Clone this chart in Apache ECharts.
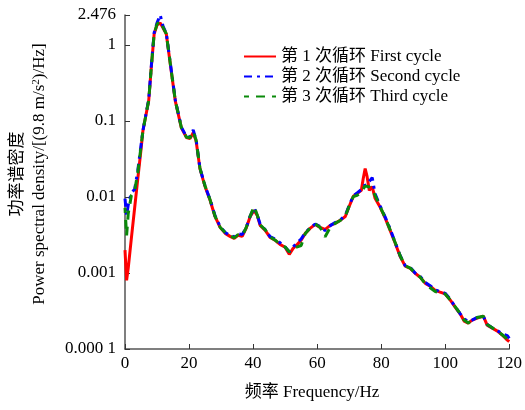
<!DOCTYPE html>
<html><head><meta charset="utf-8">
<script src="https://cdn.jsdelivr.net/npm/echarts@6/dist/echarts.min.js"></script>
<style>html,body{margin:0;padding:0;background:#fff}#c{width:525px;height:410px}</style>
</head><body><div id="c"></div>
<script>
var freq = [0,0.5,1,2,3,4,5,5.6,6.5,7.4,8.2,9.1,10,11,11.9,12.9,14.3,15.7,17.6,19.2,20.3,21.3,22.2,23.4,25,26.6,28.1,29.7,31.3,32.8,34.1,35.3,36.6,37.8,39.1,40.3,41.3,42.2,43.8,45.3,46.9,48.4,50,51.3,52.5,53.8,55,56.3,57.8,59.4,60.9,62.5,64.1,65.6,67.2,68.8,70,71.3,72.5,73.8,74.4,75,75.6,76.3,77.2,78.1,79.7,81.3,82.8,84.4,85.9,87.5,89.1,90.6,92.2,93.8,95.3,96.9,98.4,100,101.6,103.1,104.7,105.9,107.2,108.4,110,111.9,113.1,114.7,116.3,117.8,119.4,120];
var firstCycle = [0.002,0.0008,0.00115,0.0029,0.0071,0.0175,0.042,0.0745,0.117,0.184,0.50,1.39,1.83,1.94,1.67,1.39,0.50,0.184,0.081,0.0606,0.0585,0.070,0.055,0.0236,0.0137,0.009,0.00554,0.00398,0.00332,0.00303,0.00285,0.00313,0.00303,0.00386,0.00554,0.00665,0.00572,0.00423,0.00364,0.00294,0.00269,0.00238,0.00218,0.00176,0.00211,0.00238,0.00269,0.00332,0.00386,0.00436,0.00398,0.00375,0.00423,0.00449,0.00492,0.00554,0.0075,0.0102,0.0111,0.0122,0.0175,0.0236,0.0186,0.0122,0.0137,0.0096,0.0073,0.00523,0.00364,0.00246,0.00166,0.00123,0.00115,0.00099,0.00088,0.00073,0.00067,0.00059,0.00056,0.00053,0.00044,0.000356,0.000288,0.000233,0.000219,0.00024,0.000255,0.000271,0.000206,0.000188,0.000172,0.000153,0.000131,0.000125];
var secondCycle = [0.0095,0.0057,0.0078,0.0115,0.0125,0.0223,0.048,0.0745,0.12,0.19,0.52,1.45,1.95,2.476,1.75,1.42,0.52,0.19,0.083,0.062,0.062,0.076,0.057,0.024,0.014,0.0092,0.0057,0.0041,0.0034,0.0031,0.003,0.0033,0.0032,0.0039,0.0056,0.0072,0.0058,0.0044,0.0037,0.003,0.0028,0.0025,0.0022,0.0019,0.0022,0.0025,0.0028,0.0034,0.0039,0.0044,0.0041,0.0036,0.0042,0.0046,0.005,0.0057,0.0077,0.0104,0.0113,0.0125,0.014,0.0145,0.0145,0.016,0.018,0.011,0.0076,0.0054,0.0038,0.0025,0.0017,0.00125,0.00118,0.001,0.0009,0.00075,0.00068,0.0006,0.00057,0.00054,0.00045,0.00036,0.00029,0.00025,0.00023,0.00024,0.00026,0.00027,0.00021,0.00019,0.000175,0.000158,0.00015,0.000138];
var thirdCycle = [0.0072,0.0031,0.006,0.0105,0.012,0.021,0.046,0.0745,0.118,0.186,0.5,1.4,1.88,2.05,1.7,1.4,0.51,0.186,0.082,0.061,0.06,0.073,0.056,0.024,0.0139,0.0091,0.0056,0.004,0.0034,0.0031,0.0029,0.0032,0.0031,0.0039,0.0056,0.0075,0.0058,0.0043,0.0037,0.003,0.0027,0.0024,0.0022,0.0019,0.0021,0.0022,0.0023,0.0033,0.0039,0.0044,0.004,0.003,0.004,0.0045,0.0049,0.0056,0.0076,0.0101,0.0105,0.0115,0.0128,0.014,0.0145,0.0135,0.0125,0.0105,0.0074,0.0053,0.0037,0.0025,0.0017,0.00124,0.00116,0.001,0.00088,0.00072,0.00064,0.00057,0.00055,0.00053,0.00044,0.00036,0.00029,0.00024,0.00022,0.00024,0.00026,0.00027,0.00021,0.00019,0.000172,0.000154,0.000135,0.00013];
var seriesNames = ['第 1 次循环 First cycle','第 2 次循环 Second cycle','第 3 次循环 Third cycle'];
var yTickLabels = {'0.0001':'0.000 1','0.001':'0.001','0.01':'0.01','0.1':'0.1','1':'1','2.476':'2.476'};
var xTicks = [0,20,40,60,80,100,120];

var FONT = "'Liberation Serif','Noto Sans CJK SC',serif";
var FS = 17;
function pairs(v){ return freq.map(function(f,i){ return [f, v[i]]; }); }

var chart = echarts.init(document.getElementById('c'));
chart.setOption({
  animation: false,
  backgroundColor: '#fff',
  grid: {left: 125, right: 14, top: 15, bottom: 61},
  legend: {
    orient: 'vertical', left: 238, top: 43, itemWidth: 32, itemHeight: 14, itemGap: 3,
    itemStyle: {opacity: 0},
    textStyle: {fontFamily: FONT, fontSize: FS, color: '#000'},
    data: seriesNames
  },
  xAxis: {
    type: 'value', min: xTicks[0], max: xTicks[xTicks.length-1], interval: 20,
    axisLine: {lineStyle: {color: '#555', width: 1.5}},
    axisTick: {inside: true, length: 5, lineStyle: {color: '#333'}},
    axisLabel: {fontFamily: FONT, fontSize: FS, color: '#000', margin: 6},
    splitLine: {show: false}
  },
  yAxis: {
    type: 'log', min: 0.0001, max: 2.476, logBase: 10,
    axisLine: {show: true, lineStyle: {color: '#555', width: 1.5}},
    axisTick: {show: true, inside: true, length: 5, lineStyle: {color: '#333'}},
    axisLabel: {fontFamily: FONT, fontSize: FS, color: '#000', margin: 9,
      formatter: function(v){
        var k = String(+v.toPrecision(4));
        return yTickLabels[k] !== undefined ? yTickLabels[k] : k;
      }},
    splitLine: {show: false}
  },
  graphic: [
    {type: 'text', x: 312, y: 393, style: {text: '频率 Frequency/Hz', fontFamily: FONT, fontSize: FS, fill: '#000', align: 'center', verticalAlign: 'middle'}},
    {type: 'text', x: 29, y: 174, rotation: Math.PI/2,
      style: {
        text: '{c|功率谱密度}\n{a|Power spectral density/[(9.8 m/s}{s|2}{a|)/Hz]}',
        align: 'center', verticalAlign: 'middle', fill: '#000',
        rich: {
          c: {fontFamily: FONT, fontSize: FS, lineHeight: 22, fill: '#000'},
          a: {fontFamily: FONT, fontSize: FS, lineHeight: 22, fill: '#000'},
          s: {fontFamily: FONT, fontSize: 11, lineHeight: 22, verticalAlign: 'top', padding: [2,0,0,0], fill: '#000'}
        }
      }}
  ],
  series: [
    {name: seriesNames[0], type: 'line', data: pairs(firstCycle), symbol: 'none', z: 1,
      lineStyle: {color: '#ff0000', width: 3}, itemStyle: {color: '#ff0000'}},
    {name: seriesNames[1], type: 'line', data: pairs(secondCycle), symbol: 'none', z: 2,
      lineStyle: {color: '#0000ff', width: 3, type: [8,5,3,5]}, itemStyle: {color: '#0000ff'}},
    {name: seriesNames[2], type: 'line', data: pairs(thirdCycle), symbol: 'none', z: 3,
      lineStyle: {color: '#0a8a0a', width: 3, type: [9,7], dashOffset: 4}, itemStyle: {color: '#0a8a0a'}}
  ]
});
</script></body></html>
